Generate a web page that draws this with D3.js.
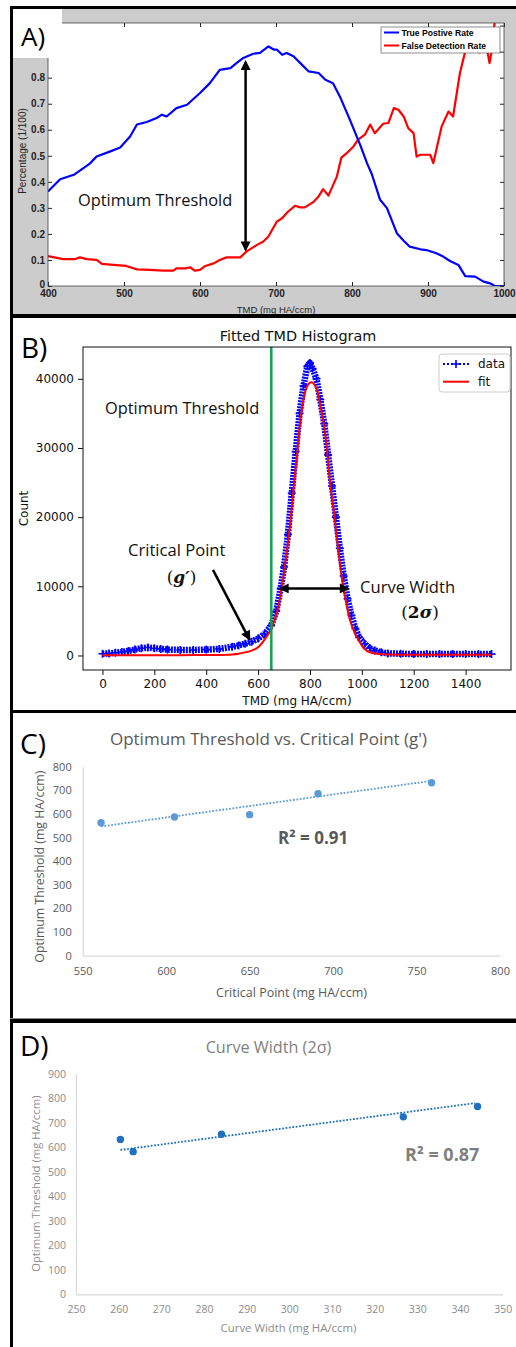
<!DOCTYPE html>
<html>
<head>
<meta charset="utf-8">
<script src="https://cdn.jsdelivr.net/npm/d3@7"></script>
<style>
  body { margin: 0; background: #fff; }
  svg { display: block; }
</style>
</head>
<body>
<script>
// ---------- panel A: true positive / false detection rate vs threshold
var tprX = [400, 416, 434, 455, 464, 482, 495, 508, 517, 530, 543, 550, 556, 569, 583, 600, 613, 626, 640, 648, 657, 670, 679, 690, 697, 701, 708, 714, 723, 732, 743, 756, 765, 775, 784, 797, 811, 820, 826, 837, 846, 859, 868, 876, 890, 898, 911, 920, 929, 940, 949, 962, 973, 982, 988, 1000];
var tprY = [0.363, 0.41, 0.427, 0.47, 0.497, 0.517, 0.532, 0.574, 0.62, 0.63, 0.645, 0.658, 0.651, 0.683, 0.696, 0.741, 0.779, 0.83, 0.837, 0.856, 0.876, 0.892, 0.895, 0.92, 0.908, 0.908, 0.888, 0.895, 0.882, 0.856, 0.824, 0.818, 0.792, 0.779, 0.728, 0.64, 0.54, 0.47, 0.43, 0.331, 0.299, 0.203, 0.174, 0.151, 0.141, 0.138, 0.126, 0.113, 0.096, 0.081, 0.038, 0.036, 0.017, 0.01, 0, 0];
var fdrX = [400, 420, 435, 442, 451, 464, 471, 486, 503, 517, 534, 552, 565, 569, 582, 587, 593, 600, 607, 618, 626, 635, 653, 661, 675, 683, 690, 701, 708, 716, 725, 732, 738, 749, 756, 762, 769, 780, 786, 793, 802, 808, 817, 824, 830, 841, 848, 855, 861, 868, 874, 881, 885, 890, 903, 907, 911, 918, 927, 933, 942, 949, 955, 968, 977, 981, 984, 988, 1000];
var fdrY = [0.115, 0.103, 0.103, 0.11, 0.103, 0.1, 0.085, 0.081, 0.077, 0.064, 0.062, 0.059, 0.059, 0.068, 0.068, 0.072, 0.059, 0.062, 0.077, 0.087, 0.1, 0.11, 0.11, 0.132, 0.158, 0.17, 0.19, 0.247, 0.26, 0.286, 0.308, 0.302, 0.302, 0.322, 0.344, 0.372, 0.347, 0.42, 0.493, 0.51, 0.536, 0.562, 0.581, 0.62, 0.587, 0.623, 0.626, 0.683, 0.677, 0.651, 0.606, 0.587, 0.497, 0.504, 0.504, 0.472, 0.523, 0.613, 0.67, 0.651, 0.818, 0.901, 0.908, 0.897, 0.92, 0.856, 0.908, 1.02, 1.02];
var ticksAx = [400, 500, 600, 700, 800, 900, 1000];
var ticksAy = [0, 0.1, 0.2, 0.3, 0.4, 0.5, 0.6, 0.7, 0.8, 0.9, 1];
var labelsAy = [0, 0.1, 0.2, 0.3, 0.4, 0.5, 0.6, 0.7, 0.8];
var optA = { x: 660, top: 0.86, bottom: 0.14 };

// ---------- panel B: fitted TMD histogram
var histX = [0, 25, 50, 75, 100, 125, 150, 175, 200, 225, 250, 300, 350, 400, 450, 500, 525, 550, 575, 600, 625, 650, 670, 687, 700, 715, 730, 745, 760, 775, 790, 800, 810, 825, 840, 855, 870, 885, 900, 915, 930, 945, 960, 975, 990, 1010, 1030, 1050, 1075, 1100, 1150, 1200, 1250, 1300, 1350, 1400, 1450, 1500];
var histY = [250, 300, 400, 500, 650, 850, 1050, 1150, 1050, 950, 850, 800, 800, 850, 950, 1250, 1450, 1700, 2000, 2450, 3100, 4300, 6400, 9700, 12800, 17500, 23500, 29500, 35000, 39000, 41800, 42300, 41500, 40000, 37000, 33500, 29000, 24500, 20000, 15500, 11500, 8200, 5800, 3900, 2600, 1700, 1050, 720, 450, 300, 250, 200, 200, 200, 200, 200, 200, 200];
var fitX = [0, 100, 200, 300, 400, 450, 500, 525, 550, 575, 600, 625, 650, 675, 700, 725, 740, 750, 760, 775, 790, 805, 825, 840, 853, 865, 877, 895, 910, 929, 940, 954, 973, 987, 1006, 1037, 1070, 1100, 1200, 1300, 1400, 1500];
var fitY = [30, 30, 40, 50, 60, 80, 150, 250, 450, 700, 1200, 2300, 3800, 6600, 12000, 19500, 25500, 29000, 33000, 37000, 39000, 39500, 38600, 36200, 33500, 29900, 25100, 20000, 15000, 9700, 7500, 5150, 3230, 2270, 1110, 390, 200, 150, 100, 100, 100, 100];
var ticksBx = [0, 200, 400, 600, 800, 1000, 1200, 1400];
var ticksBy = [0, 10000, 20000, 30000, 40000];
var optB = 651;
var critArrow = { x0: 426, y0: 12370, x1: 566, y1: 2370 };
var widthArrow = { x0: 687, x1: 946, y: 9700 };

// ---------- panel C: optimum threshold vs critical point
var critX = [561, 605, 650, 691, 759];
var critY = [563, 587, 597, 686, 732];
var trendCX = [561, 759];
var trendCY = [547, 740];

// ---------- panel D: optimum threshold vs curve width
var cwX = [260.4, 263.4, 284.1, 326.7, 344.1];
var cwY = [632, 582, 653, 724, 766];
var trendDX = [260.4, 343.5];
var trendDY = [589, 780];

var office = "'Open Sans', sans-serif";
var mpl = "'DejaVu Sans', sans-serif";
var matlab = "'Liberation Sans', Arial, sans-serif";

var svg = d3.select("body").append("svg")
  .attr("width", 516)
  .attr("height", 1347);

var defs = svg.append("defs");
defs.append("marker")
  .attr("id", "head")
  .attr("viewBox", "0 0 10 10")
  .attr("refX", 8).attr("refY", 5)
  .attr("markerWidth", 11).attr("markerHeight", 10)
  .attr("markerUnits", "userSpaceOnUse")
  .attr("orient", "auto-start-reverse")
  .append("path").attr("d", "M0,0L10,5L0,10z").attr("fill", "#000");

function styleAxis(g, family, size, weight, color) {
  g.attr("font-family", family).attr("font-size", size);
  g.selectAll("text").attr("font-weight", weight).attr("fill", color);
  g.selectAll("line").attr("stroke", color);
}

function pairs(xs, ys) {
  return xs.map(function (d, i) { return [d, ys[i]]; });
}

// ================= A =================
var A = { left: 48, right: 504, top: 23, bottom: 286 };
var xA = d3.scaleLinear().domain([400, 1000]).range([A.left, A.right]);
var yA = d3.scaleLinear().domain([0, 1.01]).range([A.bottom, A.top]);

svg.append("rect").attr("x", 13).attr("y", 9).attr("width", 503).attr("height", 305).attr("fill", "#cccccc");
svg.append("rect").attr("x", A.left).attr("y", A.top)
  .attr("width", A.right - A.left).attr("height", A.bottom - A.top).attr("fill", "#fff");

defs.append("clipPath").attr("id", "clipA").append("rect")
  .attr("x", A.left).attr("y", A.top).attr("width", A.right - A.left).attr("height", A.bottom - A.top);

var lineA = d3.line().x(function (d) { return xA(d[0]); }).y(function (d) { return yA(d[1]); });
var gA = svg.append("g").attr("clip-path", "url(#clipA)");
gA.append("path").attr("d", lineA(pairs(fdrX, fdrY))).attr("fill", "none").attr("stroke", "#ff0000").attr("stroke-width", 2.2).attr("stroke-linejoin", "round");
gA.append("path").attr("d", lineA(pairs(tprX, tprY))).attr("fill", "none").attr("stroke", "#0000ff").attr("stroke-width", 2.2).attr("stroke-linejoin", "round");

var axAb = svg.append("g").attr("transform", "translate(0," + A.bottom + ")")
  .call(d3.axisBottom(xA).tickValues(ticksAx).tickSize(-4).tickSizeOuter(0).tickPadding(4).tickFormat(d3.format("d")));
var axAt = svg.append("g").attr("transform", "translate(0," + A.top + ")")
  .call(d3.axisTop(xA).tickValues(ticksAx).tickSize(-4).tickSizeOuter(0).tickFormat(""));
var axAl = svg.append("g").attr("transform", "translate(" + A.left + ",0)")
  .call(d3.axisLeft(yA).tickValues(ticksAy).tickSize(-4).tickSizeOuter(0).tickPadding(3)
    .tickFormat(function (d) { return labelsAy.indexOf(d) >= 0 ? String(d) : ""; }));
var axAr = svg.append("g").attr("transform", "translate(" + A.right + ",0)")
  .call(d3.axisRight(yA).tickValues(ticksAy).tickSize(-4).tickSizeOuter(0).tickFormat(""));
[axAb, axAt, axAl, axAr].forEach(function (g) {
  g.select(".domain").remove();
  styleAxis(g, matlab, 10, "bold", "#222");
});
axAl.selectAll("text").filter(function (d) { return d === 0; }).attr("dy", "0.1em");
svg.append("rect").attr("x", A.left).attr("y", A.top)
  .attr("width", A.right - A.left).attr("height", A.bottom - A.top)
  .attr("fill", "none").attr("stroke", "#444").attr("stroke-width", 0.8);

svg.append("text").attr("x", 276).attr("y", 312.5).attr("text-anchor", "middle")
  .attr("font-family", matlab).attr("font-size", 9.5).attr("fill", "#222").text("TMD (mg HA/ccm)");
svg.append("text").attr("transform", "translate(25.5,151) rotate(-90)").attr("text-anchor", "middle")
  .attr("font-family", matlab).attr("font-size", 10).attr("fill", "#222").text("Percentage (1/100)");

// white label box covers the top-left corner
svg.append("rect").attr("x", 13).attr("y", 9).attr("width", 49).attr("height", 49).attr("fill", "#fff");
svg.append("text").attr("x", 21).attr("y", 46).attr("font-family", office).attr("font-size", 26).attr("fill", "#000").text("A)");

// legend A
var legA = svg.append("g").attr("font-family", matlab).attr("font-size", 8.6).attr("font-weight", "bold");
legA.append("rect").attr("x", 381).attr("y", 27).attr("width", 119).attr("height", 26).attr("fill", "#fff").attr("stroke", "#444").attr("stroke-width", 0.6);
legA.append("line").attr("x1", 384).attr("x2", 399).attr("y1", 32.5).attr("y2", 32.5).attr("stroke", "#0000ff").attr("stroke-width", 2);
legA.append("line").attr("x1", 384).attr("x2", 399).attr("y1", 45.5).attr("y2", 45.5).attr("stroke", "#ff0000").attr("stroke-width", 2);
legA.append("text").attr("x", 401.5).attr("y", 35.6).text("True Postive Rate");
legA.append("text").attr("x", 401.5).attr("y", 48.8).text("False Detection Rate");

// optimum threshold arrow A
svg.append("line")
  .attr("x1", xA(optA.x)).attr("x2", xA(optA.x))
  .attr("y1", yA(optA.top)).attr("y2", yA(optA.bottom))
  .attr("stroke", "#000").attr("stroke-width", 2.5)
  .attr("marker-start", "url(#head)").attr("marker-end", "url(#head)");
svg.append("text").attr("x", 78).attr("y", 206).attr("font-family", office).attr("font-size", 16.4).attr("fill", "#111").text("Optimum Threshold");

// ================= B =================
var B = { left: 83, right: 511, top: 347, bottom: 670 };
var xB = d3.scaleLinear().domain([-75, 1575]).range([B.left, B.right]);
var yB = d3.scaleLinear().domain([-2100, 44600]).range([B.bottom, B.top]);
var lineB = d3.line().x(function (d) { return xB(d[0]); }).y(function (d) { return yB(d[1]); });

var gB = svg.append("g");
gB.append("path").attr("d", lineB(pairs(histX, histY))).attr("fill", "none")
  .attr("stroke", "#0000ff").attr("stroke-width", 6.5).attr("stroke-dasharray", "2,1").attr("stroke-linejoin", "round");
gB.selectAll("path.plus").data(pairs(histX, histY)).enter().append("path")
  .attr("class", "plus")
  .attr("transform", function (d) { return "translate(" + xB(d[0]) + "," + yB(d[1]) + ")"; })
  .attr("d", "M-4,0H4M0,-4V4").attr("stroke", "#0000ff").attr("stroke-width", 1.6);
gB.append("path").attr("d", lineB.curve(d3.curveMonotoneX)(pairs(fitX, fitY))).attr("fill", "none")
  .attr("stroke", "#ff0000").attr("stroke-width", 2);
gB.append("line").attr("x1", xB(optB)).attr("x2", xB(optB)).attr("y1", B.top).attr("y2", B.bottom)
  .attr("stroke", "#0fa54b").attr("stroke-width", 2.5);

var axBb = svg.append("g").attr("transform", "translate(0," + B.bottom + ")")
  .call(d3.axisBottom(xB).tickValues(ticksBx).tickSize(5).tickSizeOuter(0).tickPadding(4).tickFormat(d3.format("d")));
var axBl = svg.append("g").attr("transform", "translate(" + B.left + ",0)")
  .call(d3.axisLeft(yB).tickValues(ticksBy).tickSize(5).tickSizeOuter(0).tickPadding(4).tickFormat(d3.format("d")));
[axBb, axBl].forEach(function (g) {
  g.select(".domain").remove();
  styleAxis(g, mpl, 12, "normal", "#111");
});
svg.append("rect").attr("x", B.left).attr("y", B.top)
  .attr("width", B.right - B.left).attr("height", B.bottom - B.top)
  .attr("fill", "none").attr("stroke", "#111").attr("stroke-width", 1);

svg.append("text").attr("x", 298).attr("y", 341).attr("text-anchor", "middle")
  .attr("font-family", mpl).attr("font-size", 14.4).attr("fill", "#111").text("Fitted TMD Histogram");
svg.append("text").attr("x", 297).attr("y", 704.5).attr("text-anchor", "middle")
  .attr("font-family", mpl).attr("font-size", 12).attr("fill", "#111").text("TMD (mg HA/ccm)");
svg.append("text").attr("transform", "translate(27.5,508.5) rotate(-90)").attr("text-anchor", "middle")
  .attr("font-family", mpl).attr("font-size", 12).attr("fill", "#111").text("Count");
svg.append("text").attr("x", 21).attr("y", 358).attr("font-family", office).attr("font-size", 28).attr("fill", "#000").text("B)");

// legend B
var legB = svg.append("g").attr("font-family", mpl).attr("font-size", 12).attr("fill", "#111");
legB.append("rect").attr("x", 439).attr("y", 354).attr("width", 71).attr("height", 38).attr("rx", 3)
  .attr("fill", "#fff").attr("stroke", "#cccccc").attr("stroke-width", 1);
legB.append("line").attr("x1", 443).attr("x2", 469).attr("y1", 364).attr("y2", 364)
  .attr("stroke", "#0000ff").attr("stroke-width", 2).attr("stroke-dasharray", "2,2");
legB.append("path").attr("transform", "translate(456,364)").attr("d", "M-4,0H4M0,-4V4").attr("stroke", "#0000ff").attr("stroke-width", 1.6);
legB.append("line").attr("x1", 443).attr("x2", 469).attr("y1", 381.7).attr("y2", 381.7).attr("stroke", "#ff0000").attr("stroke-width", 2);
legB.append("text").attr("x", 478).attr("y", 368.3).text("data");
legB.append("text").attr("x", 478).attr("y", 386).text("fit");

// annotations B
svg.append("text").attr("x", 105).attr("y", 413.5).attr("font-family", office).attr("font-size", 16.4).attr("fill", "#111").text("Optimum Threshold");
svg.append("text").attr("x", 128).attr("y", 555.5).attr("font-family", office).attr("font-size", 16.6).attr("fill", "#111").text("Critical Point");
var gPrime = svg.append("text").attr("x", 181.5).attr("y", 583).attr("text-anchor", "middle")
  .attr("font-family", "'DejaVu Serif', serif").attr("font-size", 17).attr("fill", "#111");
gPrime.append("tspan").text("(");
gPrime.append("tspan").attr("font-weight", "bold").attr("font-style", "italic").text("g′");
gPrime.append("tspan").text(")");
svg.append("line")
  .attr("x1", xB(critArrow.x0)).attr("y1", yB(critArrow.y0))
  .attr("x2", xB(critArrow.x1)).attr("y2", yB(critArrow.y1))
  .attr("stroke", "#000").attr("stroke-width", 2.5).attr("marker-end", "url(#head)");
svg.append("line")
  .attr("x1", xB(widthArrow.x0)).attr("x2", xB(widthArrow.x1))
  .attr("y1", yB(widthArrow.y)).attr("y2", yB(widthArrow.y))
  .attr("stroke", "#000").attr("stroke-width", 2.5)
  .attr("marker-start", "url(#head)").attr("marker-end", "url(#head)");
svg.append("text").attr("x", 360).attr("y", 592.5).attr("font-family", office).attr("font-size", 16.6).attr("fill", "#111").text("Curve Width");
var twoSig = svg.append("text").attr("x", 420).attr("y", 618).attr("text-anchor", "middle")
  .attr("font-family", "'DejaVu Serif', serif").attr("font-size", 17).attr("fill", "#111");
twoSig.append("tspan").text("(");
twoSig.append("tspan").attr("font-weight", "bold").text("2");
twoSig.append("tspan").attr("font-weight", "bold").attr("font-style", "italic").text("σ");
twoSig.append("tspan").text(")");

// ================= C & D (excel style scatter) =================
function scatterPanel(o) {
  var x = d3.scaleLinear().domain(o.xDomain).range([o.left, o.right]);
  var y = d3.scaleLinear().domain(o.yDomain).range([o.bottom, o.top]);
  var gx = svg.append("g").attr("transform", "translate(0," + o.bottom + ")")
    .call(d3.axisBottom(x).tickValues(o.xTicks).tickSize(0).tickPadding(o.padX));
  var gy = svg.append("g").attr("transform", "translate(" + o.left + ",0)")
    .call(d3.axisLeft(y).tickValues(o.yTicks).tickSize(0).tickPadding(o.padY));
  [gx, gy].forEach(function (g) {
    g.select(".domain").attr("stroke", "#d9d9d9").attr("stroke-width", 1.2);
    styleAxis(g, office, o.tickSize, "normal", o.tickColor);
  });
  svg.append("line")
    .attr("x1", x(o.trendX[0])).attr("y1", y(o.trendY[0]))
    .attr("x2", x(o.trendX[1])).attr("y2", y(o.trendY[1]))
    .attr("stroke", o.color).attr("stroke-width", 1.8).attr("stroke-dasharray", "1.8,1.6");
  svg.selectAll(null).data(pairs(o.xs, o.ys)).enter().append("circle")
    .attr("cx", function (d) { return x(d[0]); })
    .attr("cy", function (d) { return y(d[1]); })
    .attr("r", 3.7).attr("fill", o.color);
  svg.append("text").attr("x", o.titleX).attr("y", o.titleY).attr("text-anchor", "middle")
    .attr("font-family", office).attr("font-size", o.titleSize).attr("fill", o.titleColor).text(o.title);
  svg.append("text").attr("x", o.xlabX).attr("y", o.xlabY).attr("text-anchor", "middle")
    .attr("font-family", office).attr("font-size", o.labSize).attr("fill", o.labColor).text(o.xlab);
  svg.append("text").attr("transform", "translate(" + o.ylabX + "," + o.ylabY + ") rotate(-90)").attr("text-anchor", "middle")
    .attr("font-family", office).attr("font-size", o.ylabSize).attr("fill", o.labColor).text(o.ylab);
  svg.append("text").attr("x", o.r2X).attr("y", o.r2Y)
    .attr("font-family", office).attr("font-size", o.r2Size).attr("font-weight", "bold").attr("fill", o.r2Color).text(o.r2);
  svg.append("text").attr("x", 20).attr("y", o.tagY).attr("font-family", office).attr("font-size", 28).attr("fill", "#000").text(o.tag);
}

scatterPanel({
  xs: critX, ys: critY, trendX: trendCX, trendY: trendCY, color: "#5b9bd5",
  xDomain: [550, 800], yDomain: [0, 800],
  xTicks: [550, 600, 650, 700, 750, 800], yTicks: [0, 100, 200, 300, 400, 500, 600, 700, 800],
  left: 82.7, right: 500, top: 766.7, bottom: 955.7, padX: 12, padY: 11,
  tickSize: 11, tickColor: "#595959",
  title: "Optimum Threshold vs. Critical Point (g')", titleX: 268.5, titleY: 744.5, titleSize: 17, titleColor: "#595959",
  xlab: "Critical Point (mg HA/ccm)", xlabX: 291.5, xlabY: 996.5,
  ylab: "Optimum Threshold (mg HA/ccm)", ylabX: 43.5, ylabY: 866.7, labSize: 12.5, ylabSize: 12.3, labColor: "#595959",
  r2: "R² = 0.91", r2X: 278, r2Y: 843.5, r2Size: 17, r2Color: "#595959",
  tag: "C)", tagY: 754
});

scatterPanel({
  xs: cwX, ys: cwY, trendX: trendDX, trendY: trendDY, color: "#1f70c0",
  xDomain: [250, 350], yDomain: [0, 900],
  xTicks: [250, 260, 270, 280, 290, 300, 310, 320, 330, 340, 350], yTicks: [0, 100, 200, 300, 400, 500, 600, 700, 800, 900],
  left: 76, right: 502.7, top: 1073.7, bottom: 1294.3, padX: 11.5, padY: 10,
  tickSize: 10.5, tickColor: "#8c8c8c",
  title: "Curve Width (2σ)", titleX: 268.5, titleY: 1052.5, titleSize: 16.2, titleColor: "#7f7f7f",
  xlab: "Curve Width (mg HA/ccm)", xlabX: 288.5, xlabY: 1332, labSize: 11.4, ylabSize: 11.3, labColor: "#8c8c8c",
  ylab: "Optimum Threshold (mg HA/ccm)", ylabX: 40, ylabY: 1183.7,
  r2: "R² = 0.87", r2X: 405, r2Y: 1161, r2Size: 18, r2Color: "#7f7f7f",
  tag: "D)", tagY: 1056
});

// ---------- figure frame
var frame = svg.append("g").attr("fill", "#000");
frame.append("rect").attr("x", 10).attr("y", 6).attr("width", 506).attr("height", 3);
frame.append("rect").attr("x", 10).attr("y", 6).attr("width", 3).attr("height", 1341);
frame.append("rect").attr("x", 10).attr("y", 314).attr("width", 506).attr("height", 4);
frame.append("rect").attr("x", 10).attr("y", 710).attr("width", 506).attr("height", 3);
frame.append("rect").attr("x", 10).attr("y", 1018).attr("width", 506).attr("height", 1).attr("fill", "#888");
frame.append("rect").attr("x", 10).attr("y", 1019).attr("width", 506).attr("height", 4);
</script>
</body>
</html>
